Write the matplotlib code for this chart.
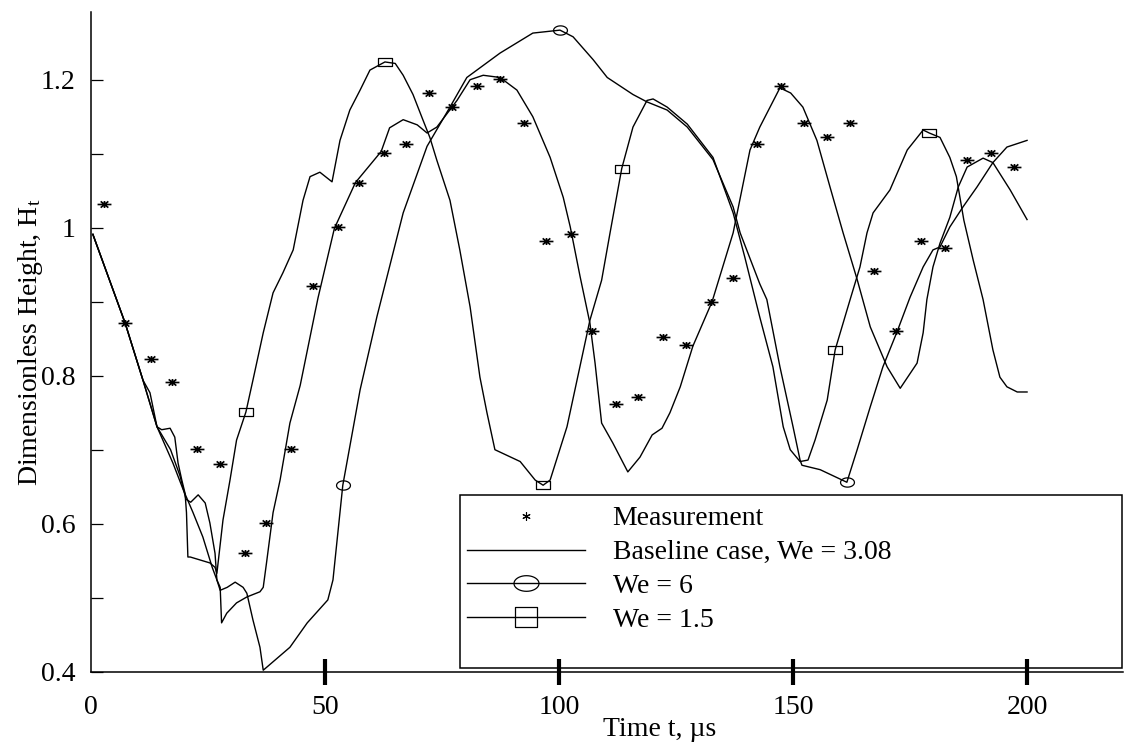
import numpy as np
import matplotlib.pyplot as plt
from matplotlib.lines import Line2D
from matplotlib.path import Path
from matplotlib.patches import Rectangle

plt.rcParams['font.family'] = 'Liberation Serif'
plt.rcParams['mathtext.fontset'] = 'custom'
plt.rcParams['mathtext.rm'] = 'Liberation Serif'
plt.rcParams['mathtext.it'] = 'Liberation Serif:italic'

# measurement points (time in us, dimensionless height)
MEAS_T = [2.8, 7.3, 12.75, 17.2, 22.6, 27.5, 32.9, 37.4, 42.7, 47.4,
          52.7, 57.3, 62.5, 67.3, 72.3, 77.1, 82.5, 87.4, 92.5, 97.2,
          102.5, 107.0, 112.2, 116.9, 122.3, 127.1, 132.4, 137.2, 142.2, 147.4,
          152.4, 157.2, 162.2, 167.2, 172.1, 177.4, 182.5, 187.2, 192.2, 197.2]
MEAS_H = [1.032, 0.871, 0.823, 0.791, 0.701, 0.681, 0.561, 0.601, 0.701, 0.921,
          1.001, 1.061, 1.101, 1.113, 1.182, 1.163, 1.192, 1.201, 1.142, 0.982,
          0.992, 0.860, 0.762, 0.771, 0.852, 0.841, 0.900, 0.932, 1.113, 1.192,
          1.142, 1.122, 1.142, 0.942, 0.860, 0.982, 0.972, 1.092, 1.101, 1.082]

# baseline case, We = 3.08
BASE_T = [0.4, 7.3, 11.1, 12.6, 14.1, 17.0, 19.0, 20.3, 21.3, 22.9,
          24.4, 25.4, 26.5, 26.9, 27.6, 27.9, 29.0, 31.1, 33.3, 36.1,
          36.8, 37.5, 38.9, 40.4, 42.5, 44.7, 48.5, 52.0, 56.5, 62.0,
          63.8, 66.7, 69.7, 71.8, 73.9, 78.2, 81.0, 83.8, 87.4, 91.0,
          94.4, 98.1, 100.9, 102.4, 104.5, 106.6, 107.7, 109.1, 111.5, 114.7,
          117.3, 119.9, 122.0, 123.7, 125.9, 128.6, 132.7, 137.2, 140.8, 142.9,
          147.2, 149.5, 152.1, 155.1, 157.9, 160.7, 163.7, 166.5, 170.1, 172.9,
          176.5, 177.8, 178.6, 179.9, 181.4, 183.5, 185.3, 187.2, 190.6, 192.7,
          196.4, 200.0]
BASE_H = [0.991, 0.871, 0.794, 0.777, 0.731, 0.700, 0.665, 0.633, 0.629, 0.639,
          0.628, 0.601, 0.560, 0.524, 0.514, 0.466, 0.479, 0.493, 0.501, 0.508,
          0.514, 0.547, 0.615, 0.659, 0.736, 0.787, 0.905, 0.999, 1.061, 1.103,
          1.135, 1.146, 1.139, 1.128, 1.136, 1.172, 1.200, 1.206, 1.203, 1.186,
          1.150, 1.095, 1.041, 1.001, 0.934, 0.871, 0.817, 0.736, 0.709, 0.670,
          0.690, 0.720, 0.729, 0.750, 0.785, 0.840, 0.900, 0.993, 1.105, 1.136,
          1.189, 1.182, 1.163, 1.118, 1.055, 0.993, 0.930, 0.866, 0.812, 0.783,
          0.817, 0.858, 0.903, 0.947, 0.979, 1.014, 1.055, 1.082, 1.094, 1.088,
          1.051, 1.011]

# We = 6
WE6_T = [0.4, 7.3, 11.1, 14.1, 17.5, 19.7, 21.8, 23.9, 25.9, 26.9,
         27.6, 29.1, 30.8, 32.5, 33.3, 34.6, 36.1, 36.8, 42.5, 46.2,
         50.6, 51.7, 53.8, 57.5, 61.1, 63.5, 66.7, 71.8, 76.7, 80.3,
         87.4, 94.4, 100.2, 103.0, 107.3, 110.3, 115.8, 118.8, 123.1, 127.4,
         132.9, 137.2, 138.7, 142.9, 144.4, 147.2, 150.0, 151.5, 151.9, 155.8,
         161.5, 163.7, 166.5, 169.2, 172.2, 175.0, 177.8, 179.9, 181.4, 183.5,
         186.3, 189.3, 192.7, 195.7, 200.0]
WE6_H = [0.991, 0.871, 0.794, 0.731, 0.682, 0.646, 0.615, 0.582, 0.541, 0.524,
         0.510, 0.514, 0.521, 0.514, 0.506, 0.470, 0.433, 0.402, 0.433, 0.466,
         0.497, 0.524, 0.652, 0.781, 0.880, 0.940, 1.020, 1.110, 1.163, 1.203,
         1.236, 1.263, 1.267, 1.258, 1.227, 1.203, 1.180, 1.170, 1.159, 1.136,
         1.092, 1.028, 0.993, 0.924, 0.903, 0.812, 0.731, 0.686, 0.679, 0.673,
         0.656, 0.700, 0.758, 0.812, 0.859, 0.906, 0.947, 0.970, 0.974, 1.001,
         1.028, 1.055, 1.088, 1.109, 1.118]
WE6_MARK_T = [53.8, 100.2, 161.5]

# We = 1.5
WE15_T = [0.4, 7.3, 11.1, 14.1, 15.1, 16.9, 17.9, 18.6, 19.4, 20.1,
          20.4, 20.7, 21.2, 25.4, 26.5, 26.9, 28.2, 29.7, 31.1, 33.1,
          34.6, 36.8, 38.9, 41.0, 43.2, 45.3, 46.8, 48.9, 51.5, 53.2,
          55.3, 57.5, 59.6, 62.8, 65.0, 66.7, 68.8, 70.9, 72.4, 73.9,
          76.7, 78.8, 81.0, 83.1, 84.6, 86.3, 91.7, 94.9, 96.6, 98.1,
          101.7, 106.6, 109.1, 110.9, 113.4, 115.8, 118.8, 120.1, 123.1, 127.4,
          132.9, 137.2, 139.7, 142.9, 145.7, 147.9, 149.4, 151.5, 153.2, 154.7,
          157.3, 159.0, 162.2, 164.3, 165.8, 167.1, 170.7, 174.4, 177.8, 179.1,
          181.4, 183.5, 184.9, 186.5, 188.5, 190.6, 192.7, 194.2, 195.7, 197.9,
          200.0]
WE15_H = [0.991, 0.871, 0.794, 0.731, 0.727, 0.729, 0.717, 0.682, 0.659, 0.641,
          0.615, 0.555, 0.555, 0.547, 0.541, 0.533, 0.605, 0.659, 0.713, 0.751,
          0.794, 0.858, 0.912, 0.939, 0.970, 1.037, 1.069, 1.075, 1.062, 1.118,
          1.159, 1.186, 1.213, 1.224, 1.222, 1.206, 1.180, 1.146, 1.122, 1.091,
          1.037, 0.970, 0.893, 0.798, 0.750, 0.700, 0.684, 0.659, 0.652, 0.659,
          0.731, 0.875, 0.929, 0.993, 1.080, 1.136, 1.172, 1.174, 1.163, 1.140,
          1.095, 1.020, 0.960, 0.879, 0.812, 0.731, 0.700, 0.684, 0.686, 0.713,
          0.767, 0.835, 0.903, 0.947, 0.993, 1.020, 1.051, 1.105, 1.132, 1.128,
          1.122, 1.095, 1.069, 1.010, 0.956, 0.903, 0.835, 0.798, 0.785, 0.778,
          0.778]
WE15_MARK_T = [33.1, 62.8, 96.6, 113.4, 159.0, 179.1]

LABELS = ['Measurement', 'Baseline case, We = 3.08', 'We = 6', 'We = 1.5']


def ellipse(aspect):
    a = np.linspace(0, 2 * np.pi, 41)
    return Path(np.column_stack([aspect * np.cos(a), np.sin(a)]), closed=True)


def box(aspect):
    return Path([(-aspect, -1), (aspect, -1), (aspect, 1), (-aspect, 1), (-aspect, -1)], closed=True)


# flattened asterisk, the way the scanned stars look
star = Path([(-1, 0), (1, 0), (-0.55, -0.45), (0.55, 0.45),
             (-0.55, 0.45), (0.55, -0.45), (0, -0.5), (0, 0.5)],
            [Path.MOVETO, Path.LINETO] * 4)

fig = plt.figure(figsize=(11.26, 7.45), dpi=100)
ax = fig.add_axes([91 / 1126, 1 - 671.7 / 745, 1032 / 1126, 659.7 / 745])

ax.plot(BASE_T, BASE_H, color='black', lw=1.0)
ax.plot(WE6_T, WE6_H, color='black', lw=1.0,
        marker=ellipse(1.5), ms=10, mfc='none', mec='black', mew=0.9,
        markevery=[WE6_T.index(t) for t in WE6_MARK_T])
ax.plot(WE15_T, WE15_H, color='black', lw=1.0,
        marker=box(1.6), ms=10, mfc='none', mec='black', mew=0.9,
        markevery=[WE15_T.index(t) for t in WE15_MARK_T])
ax.plot(MEAS_T, MEAS_H, ls='none', marker=star, ms=10, mec='black', mew=1.2)

ax.set_xlim(0, 220.5)
ax.set_ylim(0.4, 1.2915)
for side in ['top', 'right']:
    ax.spines[side].set_visible(False)
for side in ['left', 'bottom']:
    ax.spines[side].set_linewidth(1.1)

ax.set_xticks([0, 50, 100, 150, 200])
ax.set_xticklabels(['0', '50', '100', '150', '200'])
ax.tick_params(axis='x', direction='inout', length=19.4, width=3, labelsize=20, pad=7)
ax.xaxis.get_major_ticks()[0].tick1line.set_visible(False)

ax.set_yticks([0.4, 0.6, 0.8, 1.0, 1.2])
ax.set_yticklabels(['0.4', '0.6', '0.8', '1', '1.2'])
ax.set_yticks([0.5, 0.7, 0.9, 1.1], minor=True)
ax.tick_params(axis='y', which='both', direction='in', length=8.6, width=0.9, labelsize=20, pad=11)

ax.set_xlabel('Time t, µs', fontsize=20)
ax.xaxis.set_label_coords(0.551, -0.068)
ax.set_ylabel(r'Dimensionless Height, H$_{\mathrm{t}}$', fontsize=20)
ax.yaxis.set_label_coords(-0.045, 0.5)

# legend box drawn by hand, entries placed inside it
ax.add_patch(Rectangle(((460 - 91) / 1032, (671.7 - 668) / 659.7),
                       (1122 - 460) / 1032, (668 - 495) / 659.7,
                       fill=False, ec='black', lw=1.1, transform=ax.transAxes, clip_on=False))
handles = [
    Line2D([], [], ls='none', marker=(6, 2, 0), ms=6, mec='black', mew=0.8),
    Line2D([], [], color='black', lw=1.0),
    Line2D([], [], color='black', lw=1.0, marker=ellipse(1.6), ms=18, mfc='none', mec='black', mew=0.9),
    Line2D([], [], color='black', lw=1.0, marker=box(1.1), ms=16, mfc='none', mec='black', mew=0.9),
]
ax.legend(handles, LABELS, loc='upper left',
          bbox_to_anchor=((466.7 - 91) / 1032, (671.7 - 506) / 659.7),
          frameon=False, fontsize=20, handlelength=4.25, handletextpad=1.0,
          labelspacing=0.3, borderpad=0, borderaxespad=0)

plt.savefig('out.png', dpi=100)
